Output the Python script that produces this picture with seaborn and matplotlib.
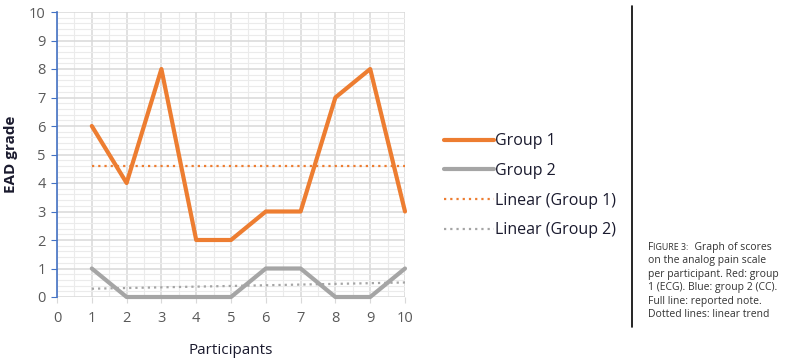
import matplotlib.pyplot as plt
import seaborn as sns
import numpy as np
import pandas as pd
from matplotlib.lines import Line2D
from matplotlib.ticker import MultipleLocator

# scores
participants = [1, 2, 3, 4, 5, 6, 7, 8, 9, 10]
group1 = [6, 4, 8, 2, 2, 3, 3, 7, 8, 3]
group2 = [1, 0, 0, 0, 0, 1, 1, 0, 0, 1]

orange = '#ED7D31'
grey = '#A5A5A5'

sns.set_style('white')
plt.rcParams['font.family'] = ['Open Sans', 'DejaVu Sans']

fig = plt.figure(figsize=(7.91, 3.63), dpi=100)
ax = fig.add_axes([57/791, 1-297/363, 348/791, 285/363])

df = pd.DataFrame({'x': participants, 'g1': group1, 'g2': group2})
sns.lineplot(data=df, x='x', y='g1', color=orange, lw=3, ax=ax, zorder=4, clip_on=False)
sns.lineplot(data=df, x='x', y='g2', color=grey, lw=3, ax=ax, zorder=3, clip_on=False)

# linear trend lines (least squares fit of each group)
x = np.array(participants)
for vals, c in [(group1, orange), (group2, grey)]:
    a, b = np.polyfit(x, vals, 1)
    ax.plot(x, a*x + b, color=c, lw=1.6, linestyle=(0, (1, 1.8)), zorder=2)

ax.set_xlim(0, 10)
ax.set_ylim(0, 10)
ax.xaxis.set_major_locator(MultipleLocator(1))
ax.yaxis.set_major_locator(MultipleLocator(1))
ax.xaxis.set_minor_locator(MultipleLocator(0.5))
ax.yaxis.set_minor_locator(MultipleLocator(0.2))
ax.grid(which='major', color='#D9D9D9', lw=1.1)
ax.grid(which='minor', color='#EBEBEB', lw=0.8)
ax.set_axisbelow(True)
ax.tick_params(which='minor', length=0)
ax.tick_params(axis='y', which='major', length=4, color='#4472C4', labelsize=10.5, labelcolor='#595959', pad=4)
ax.tick_params(axis='x', which='major', length=4, color='#D9D9D9', labelsize=10.5, labelcolor='#595959', pad=6)
ax.tick_params(axis='both', left=True, bottom=True)
for s in ['top', 'right', 'bottom']:
    ax.spines[s].set_visible(False)
ax.spines['left'].set_color('#4472C4')
ax.spines['left'].set_linewidth(1.2)

ax.set_xlabel('Participants', fontsize=11, color='#1a1a2e', labelpad=12)
ax.set_ylabel('EAD grade', fontsize=11, fontweight='bold', color='#1a1a2e', labelpad=8)

handles = [
    Line2D([], [], color=orange, lw=3),
    Line2D([], [], color=grey, lw=3),
    Line2D([], [], color=orange, lw=1.6, linestyle=(0, (1, 1.8))),
    Line2D([], [], color=grey, lw=1.6, linestyle=(0, (1, 1.8))),
]
labels = ['Group 1', 'Group 2', 'Linear (Group 1)', 'Linear (Group 2)']
fig.legend(handles, labels, loc='upper left', bbox_to_anchor=(430/791, 1-119/363),
           frameon=False, fontsize=11.5, handlelength=3.1, handletextpad=0.1,
           labelspacing=0.85, labelcolor='#1a1a2e')

# separator and caption
fig.add_artist(Line2D([632/791, 632/791], [1-6/363, 1-327/363], color='black', lw=1.2))
cap_x, cap_y = 648/791, 1-242/363
t = fig.text(cap_x, cap_y, 'F', fontsize=7.5, color='#333333', va='top', ha='left')
fig.canvas.draw()
bb = t.get_window_extent()
t2 = fig.text(bb.x1/fig.bbox.width, cap_y - 0.002, 'IGURE 3:', fontsize=6.4, color='#333333', va='top', ha='left')
fig.canvas.draw()
x2 = t2.get_window_extent().x1/fig.bbox.width
fig.text(x2, cap_y, '  Graph of scores', fontsize=7.5, color='#333333', va='top', ha='left')
caption = ('on the analog pain scale\nper participant. Red: group\n'
           '1 (ECG). Blue: group 2 (CC).\nFull line: reported note.\nDotted lines: linear trend')
fig.text(cap_x, cap_y - 13.5/363, caption, fontsize=7.5, color='#333333', va='top', ha='left',
         linespacing=1.3)

fig.savefig('out.png', dpi=100)
